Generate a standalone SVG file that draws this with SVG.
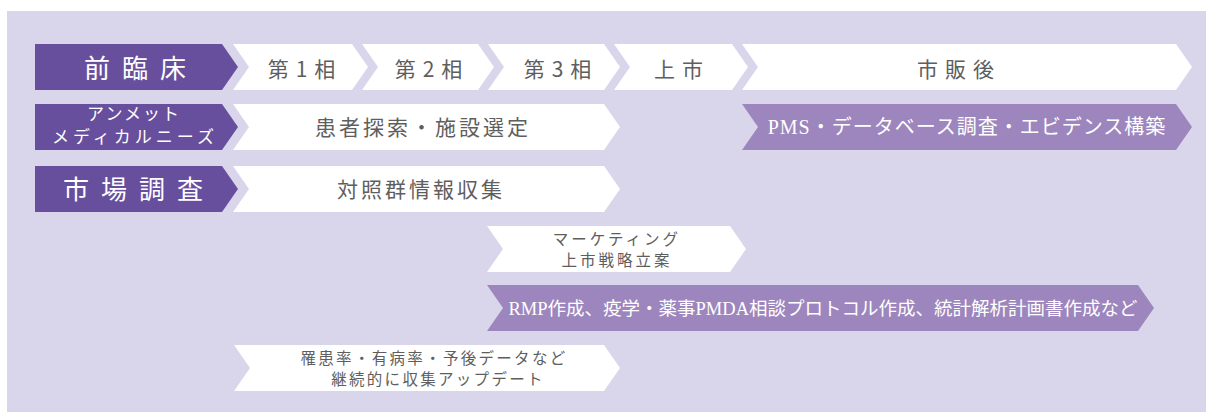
<svg xmlns="http://www.w3.org/2000/svg" width="1206" height="412" viewBox="0 0 1206 412">
<style>
.bg{fill:#d9d6eb}
.dk{fill:#684f9e}
.lt{fill:#9d86bd}
.wh{fill:#ffffff}
text{font-family:"Noto Sans CJK JP","Noto Sans",sans-serif;text-anchor:middle}
.hd{fill:#ffffff;font-size:26px;letter-spacing:12px}
.hs{fill:#ffffff;font-size:17px;letter-spacing:2px}
.ph{fill:#5e5e5e;font-size:21px;letter-spacing:7px}
.gt{fill:#5e5e5e;font-size:21px;letter-spacing:3px}
.sm{fill:#5e5e5e;font-size:15.5px;letter-spacing:3px}
.sm2{fill:#5e5e5e;font-size:15.5px;letter-spacing:2.3px}
.lw{fill:#ffffff;font-family:"Liberation Serif","Noto Sans CJK JP",serif;font-size:18.5px}
</style>
<rect class="bg" x="7" y="11" width="1199" height="401"/>

<g id="preclinical">
<polygon class="dk" points="35,44 222,44 238,67 222,90 35,90"/>
<text class="hd" x="141" y="78">前臨床</text>
</g>
<g id="phase1">
<polygon class="wh" points="233,44 352,44 368,67 352,90 233,90 249,67"/>
<text class="ph" x="305" y="77">第1相</text>
</g>
<g id="phase2">
<polygon class="wh" points="362,44 478,44 494,67 478,90 362,90 378,67"/>
<text class="ph" x="432" y="77">第2相</text>
</g>
<g id="phase3">
<polygon class="wh" points="488,44 604,44 620,67 604,90 488,90 504,67"/>
<text class="ph" x="561" y="77">第3相</text>
</g>
<g id="launch">
<polygon class="wh" points="614,44 732,44 748,67 732,90 614,90 630,67"/>
<text class="ph" x="682" y="77">上市</text>
</g>
<g id="postmarket">
<polygon class="wh" points="742,44 1176,44 1192,67 1176,90 742,90 758,67"/>
<text class="ph" x="959" y="77">市販後</text>
</g>

<g id="unmet">
<polygon class="dk" points="35,104 222,104 238,127 222,150 35,150"/>
<text class="hs" x="134" y="120">アンメット</text>
<text class="hs" x="135" y="143" style="letter-spacing:4px">メディカルニーズ</text>
</g>
<g id="patient-search">
<polygon class="wh" points="233,104 604,104 620,127 604,150 233,150 249,127"/>
<text class="gt" x="423" y="135">患者探索・施設選定</text>
</g>
<g id="pms">
<polygon class="lt" points="742,104 1176,104 1192,127 1176,150 742,150 758,127"/>
<text class="lw" x="967" y="134" style="font-size:20px;letter-spacing:1px">PMS・データベース調査・エビデンス構築</text>
</g>

<g id="market-research">
<polygon class="dk" points="35,166 222,166 238,189 222,212 35,212"/>
<text class="hd" x="139" y="199">市場調査</text>
</g>
<g id="control-info">
<polygon class="wh" points="233,166 604,166 620,189 604,212 233,212 249,189"/>
<text class="gt" x="421" y="197">対照群情報収集</text>
</g>

<g id="marketing">
<polygon class="wh" points="487,226 730,226 746,249 730,272 487,272 503,249"/>
<text class="sm" x="617" y="245">マーケティング</text>
<text class="sm" x="617" y="266">上市戦略立案</text>
</g>

<g id="rmp">
<polygon class="lt" points="487,285 1138,285 1154,308 1138,331 487,331 503,308"/>
<text class="lw" x="823" y="315">RMP作成、疫学・薬事PMDA相談プロトコル作成、統計解析計画書作成など</text>
</g>

<g id="epidemiology">
<polygon class="wh" points="234,345 604,345 620,368 604,391 234,391 250,368"/>
<text class="sm2" x="434" y="364">罹患率・有病率・予後データなど</text>
<text class="sm2" x="438" y="385">継続的に収集アップデート</text>
</g>
</svg>
